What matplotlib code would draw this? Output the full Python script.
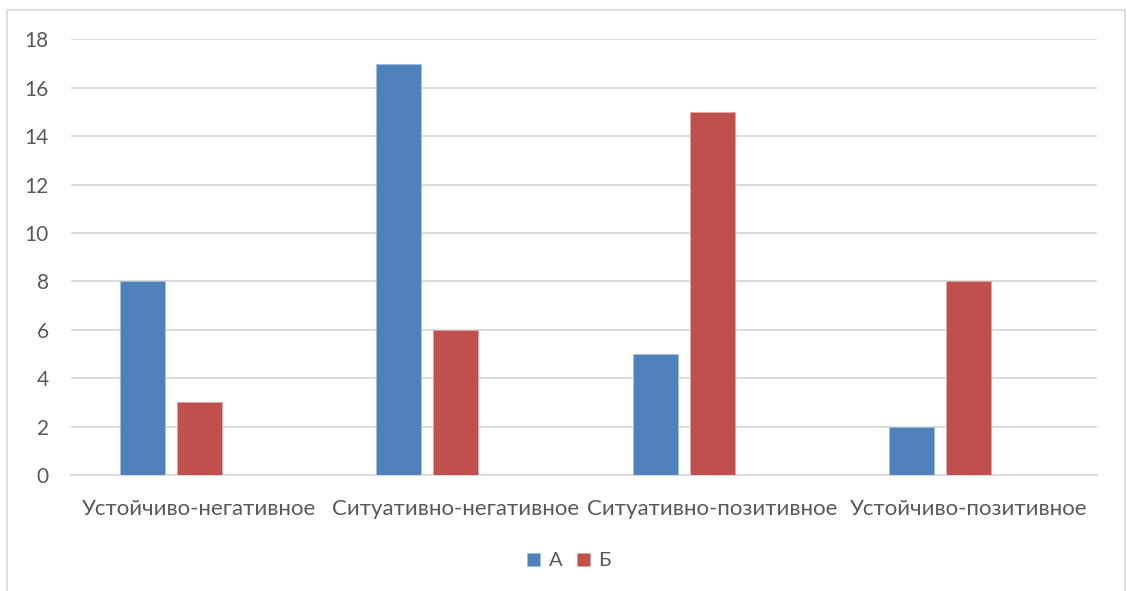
import numpy as np
import matplotlib.pyplot as plt
from matplotlib.patches import Rectangle

categories = ['Устойчиво-негативное', 'Ситуативно-негативное',
              'Ситуативно-позитивное', 'Устойчиво-позитивное']
series_a = [8, 17, 5, 2]
series_b = [3, 6, 15, 8]
y_ticks = [0, 2, 4, 6, 8, 10, 12, 14, 16, 18]

plt.rcParams['font.family'] = ['Lato', 'DejaVu Sans']

fig = plt.figure(figsize=(11.27, 5.91), dpi=100)
ax = fig.add_axes([0.063, 0.1963, 0.9104, 0.7369])

# chart frame like the Excel chart area
fig.patches.append(Rectangle((7 / 1127, -0.1), (1125 - 7) / 1127, 1 - 10 / 591 + 0.1,
                             transform=fig.transFigure, fill=False,
                             edgecolor='#d9d9d9', linewidth=1.2))

x = np.arange(len(categories))
width = 0.175
ax.bar(x - 0.222, series_a, width, color='#4f81bd', label='А', zorder=3,
       edgecolor='#a7c0de', linewidth=0.6)
ax.bar(x, series_b, width, color='#c0504d', label='Б', zorder=3,
       edgecolor='#e0a8a6', linewidth=0.6)

ax.set_xlim(-0.5, len(categories) - 0.5)
ax.set_ylim(0, 18)
ax.set_yticks(y_ticks)
ax.set_xticks(x)
ax.set_xticklabels(categories)
ax.grid(axis='y', color='#d9d9d9', linewidth=1.3, zorder=0)
for side in ['top', 'right', 'left']:
    ax.spines[side].set_visible(False)
ax.spines['bottom'].set_color('#d9d9d9')
ax.spines['bottom'].set_linewidth(1.3)
ax.tick_params(axis='both', length=0, colors='#595959')
ax.tick_params(axis='x', labelsize=16, pad=17)
ax.tick_params(axis='y', labelsize=15, pad=16)

fig.legend(loc='center', bbox_to_anchor=(0.505, 0.051), ncol=2, frameon=False,
           fontsize=14.5, labelcolor='#595959', handlelength=0.65, handleheight=0.65,
           handletextpad=0.4, columnspacing=0.75)

fig.savefig('out.png', dpi=100)
